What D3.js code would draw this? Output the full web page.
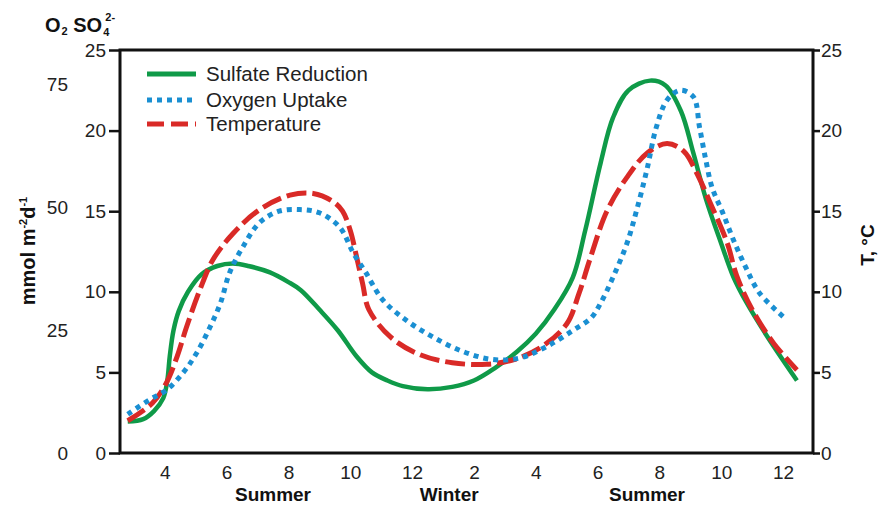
<!DOCTYPE html>
<html>
<head>
<meta charset="utf-8">
<script src="https://cdn.jsdelivr.net/npm/d3@7"></script>
<style>
    body { margin: 0; background: #fff; }
    svg { font-family: 'Liberation Sans', Arial, sans-serif; }
    .tick text { font-size: 19px; fill: #222; }
</style>
</head>
<body>
<div class="main"></div>
<script>
// months counted from Jan of the first year (14 = Feb of the next year)
var sulfateT = [2.8, 3.3, 3.65, 3.95, 4.08, 4.16, 4.28, 4.45, 4.75, 5.2, 5.7, 6.2, 6.7, 7.4, 8.0, 8.4, 9.0, 9.6, 10.2, 10.7, 11.2, 11.7, 12.5, 13.3, 14.0, 14.7, 15.4, 16.0, 16.6, 17.2, 17.6, 18.1, 18.5, 19.0, 19.7, 20.2, 20.7, 21.1, 21.5, 22.0, 22.4, 22.8, 23.5, 24.45];
var sulfateV = [1.95, 2.1, 2.6, 3.4, 4.5, 6.0, 7.6, 8.8, 10.0, 11.1, 11.6, 11.75, 11.6, 11.2, 10.6, 10.1, 8.9, 7.6, 6.0, 5.0, 4.5, 4.15, 3.95, 4.1, 4.5, 5.3, 6.3, 7.4, 8.9, 10.9, 13.8, 18.0, 20.8, 22.5, 23.1, 22.8, 21.2, 18.6, 15.8, 13.0, 10.9, 9.4, 7.2, 4.5];

var oxygenT = [2.8, 3.5, 4.05, 4.6, 5.03, 5.46, 5.8, 6.1, 6.53, 7.07, 7.7, 8.37, 9.0, 9.66, 10.1, 10.5, 11.05, 11.8, 12.67, 13.64, 14.6, 15.5, 16.35, 17.2, 17.8, 18.1, 18.5, 18.95, 19.27, 19.6, 19.9, 20.25, 20.67, 21.1, 21.3, 21.5, 21.7, 22.05, 22.4, 22.8, 23.25, 24.1];
var oxygenV = [2.4, 3.3, 3.9, 5.0, 6.2, 7.8, 9.3, 11.2, 12.8, 14.3, 15.0, 15.1, 14.9, 14.0, 12.4, 11.2, 9.5, 8.25, 7.2, 6.3, 5.8, 5.9, 6.6, 7.6, 8.4, 9.3, 10.9, 13.0, 15.1, 17.6, 20.2, 21.9, 22.5, 22.1, 20.2, 18.2, 16.5, 14.9, 13.2, 11.5, 9.9, 8.3];

var tempT = [2.8, 3.6, 4.05, 4.4, 4.7, 5.13, 5.56, 6.2, 7.07, 8.05, 8.8, 9.44, 9.75, 10.0, 10.2, 10.4, 10.6, 11.3, 12.25, 13.3, 14.4, 15.3, 16.2, 17.0, 17.4, 17.75, 18.3, 18.95, 19.6, 20.25, 20.8, 21.2, 21.65, 22.2, 22.5, 23.0, 23.7, 24.45];
var tempV = [2.0, 3.1, 4.35, 6.0, 7.8, 10.1, 12.0, 13.6, 15.1, 16.0, 16.1, 15.6, 15.0, 13.8, 12.2, 10.5, 8.9, 7.2, 6.1, 5.6, 5.5, 5.8, 6.6, 8.0, 9.9, 12.0, 15.0, 17.1, 18.6, 19.2, 18.7, 17.4, 15.5, 13.0, 11.0, 8.9, 6.8, 5.15];

var monthTicks = [4, 6, 8, 10, 12, 14, 16, 18, 20, 22, 24];
var monthLabels = ['4', '6', '8', '10', '12', '2', '4', '6', '8', '10', '12'];
var seasonNames = ['Summer', 'Winter', 'Summer'];
var seasonT = [7.5, 13.2, 19.6];
var leftTicks = [0, 5, 10, 15, 20, 25];
var o2Ticks = [0, 25, 50, 75];
var tempTicks = [0, 5, 10, 15, 20, 25];
var legendNames = ['Sulfate Reduction', 'Oxygen Uptake', 'Temperature'];

var options = {
    'width': 880,
    'height': 506,
};
var m = { left: 120, right: 813, top: 50, bottom: 453 };

var colors = { green: '#0f9a48', blue: '#1a8fd2', red: '#d92a27' };

var svg = d3.select('.main')
    .append('svg')
    .attr('width', options.width)
    .attr('height', options.height);

var x = d3.scaleLinear().domain([2.55, 24.97]).range([m.left, m.right]);
var y = d3.scaleLinear().domain([0, 25]).range([m.bottom, m.top]);
var yO2 = d3.scaleLinear().domain([0, 82]).range([m.bottom, m.top]);
var yT = d3.scaleLinear().domain([0, 25]).range([m.bottom, m.top]);

// axes
svg.append('g')
    .attr('transform', 'translate(' + m.left + ',0)')
    .call(d3.axisLeft(y).tickValues(leftTicks).tickSize(11).tickPadding(3));

svg.append('g')
    .attr('transform', 'translate(68,0)')
    .call(d3.axisLeft(yO2).tickValues(o2Ticks).tickSize(0).tickPadding(0));

svg.append('g')
    .attr('transform', 'translate(' + m.right + ',0)')
    .call(d3.axisRight(yT).tickValues(tempTicks).tickSize(7).tickPadding(1));

svg.append('g')
    .attr('transform', 'translate(0,' + m.bottom + ')')
    .call(d3.axisBottom(x).tickValues(monthTicks).tickSize(0).tickPadding(13)
        .tickFormat(function (d, i) { return monthLabels[i]; }));

svg.selectAll('.domain').remove();
svg.selectAll('.tick line').style('stroke', '#111').style('stroke-width', '2.5px');

svg.selectAll('.season')
    .data(seasonNames)
    .enter()
    .append('text')
    .attr('class', 'season')
    .attr('x', function (d, i) { return x(seasonT[i]); })
    .attr('y', 501)
    .attr('text-anchor', 'middle')
    .style('font-size', '19px')
    .style('font-weight', 'bold')
    .style('fill', '#111')
    .text(function (d) { return d; });

// titles
var t1 = svg.append('text')
    .attr('x', 45)
    .attr('y', 32)
    .style('font-size', '20px')
    .style('font-weight', 'bold')
    .style('fill', '#111');
t1.append('tspan').text('O');
t1.append('tspan').attr('dy', 3).attr('dx', 1).style('font-size', '11px').text('2');
t1.append('tspan').attr('dy', -3).text(' SO');
t1.append('tspan').attr('dy', 4).attr('dx', 1).style('font-size', '11px').text('4');
t1.append('tspan').attr('dy', -15).attr('dx', -4).style('font-size', '11px').text('2-');

var t2 = svg.append('text')
    .attr('transform', 'translate(35,251) rotate(-90)')
    .attr('text-anchor', 'middle')
    .style('font-size', '20px')
    .style('font-weight', 'bold')
    .style('fill', '#111');
t2.append('tspan').text('mmol m');
t2.append('tspan').attr('dy', -8).style('font-size', '11px').text('-2');
t2.append('tspan').attr('dy', 8).text('d');
t2.append('tspan').attr('dy', -8).style('font-size', '11px').text('-1');

svg.append('text')
    .attr('transform', 'translate(874,245) rotate(-90)')
    .attr('text-anchor', 'middle')
    .style('font-size', '19px')
    .style('font-weight', 'bold')
    .style('fill', '#111')
    .text('T, °C');

// lines
var line = d3.line()
    .x(function (d) { return x(d[0]); })
    .y(function (d) { return d[2](d[1]); })
    .curve(d3.curveCatmullRom.alpha(0.5));

function pts(ts, vs, scale) {
    return ts.map(function (t, i) { return [t, vs[i], scale]; });
}

svg.append('path')
    .attr('d', line(pts(sulfateT, sulfateV, y)))
    .style('fill', 'none')
    .style('stroke', colors.green)
    .style('stroke-width', '4.5px');

svg.append('path')
    .attr('d', line(pts(tempT, tempV, yT)))
    .style('fill', 'none')
    .style('stroke', colors.red)
    .style('stroke-width', '5px')
    .style('stroke-dasharray', '20,6');

svg.append('path')
    .attr('d', line(pts(oxygenT, oxygenV, y)))
    .style('fill', 'none')
    .style('stroke', colors.blue)
    .style('stroke-width', '5px')
    .style('stroke-dasharray', '5,5');

// frame
svg.append('rect')
    .attr('x', m.left)
    .attr('y', m.top)
    .attr('width', m.right - m.left)
    .attr('height', m.bottom - m.top)
    .style('fill', 'none')
    .style('stroke', '#111')
    .style('stroke-width', '3px');

// legend
var legendStyles = [
    { c: colors.green, dash: null },
    { c: colors.blue, dash: '5,5' },
    { c: colors.red, dash: '17,7' }
];
var legendY = [74, 100, 124];

var lg = svg.selectAll('.legend')
    .data(legendNames)
    .enter()
    .append('g')
    .attr('class', 'legend')
    .attr('transform', function (d, i) { return 'translate(147,' + legendY[i] + ')'; });

lg.append('line')
    .attr('x1', 0)
    .attr('x2', 49)
    .style('stroke', function (d, i) { return legendStyles[i].c; })
    .style('stroke-width', '5px')
    .style('stroke-dasharray', function (d, i) { return legendStyles[i].dash; });

lg.append('text')
    .attr('x', 59)
    .attr('dy', '0.36em')
    .style('font-size', '20.5px')
    .style('fill', '#222')
    .text(function (d) { return d; });
</script>
</body>
</html>
